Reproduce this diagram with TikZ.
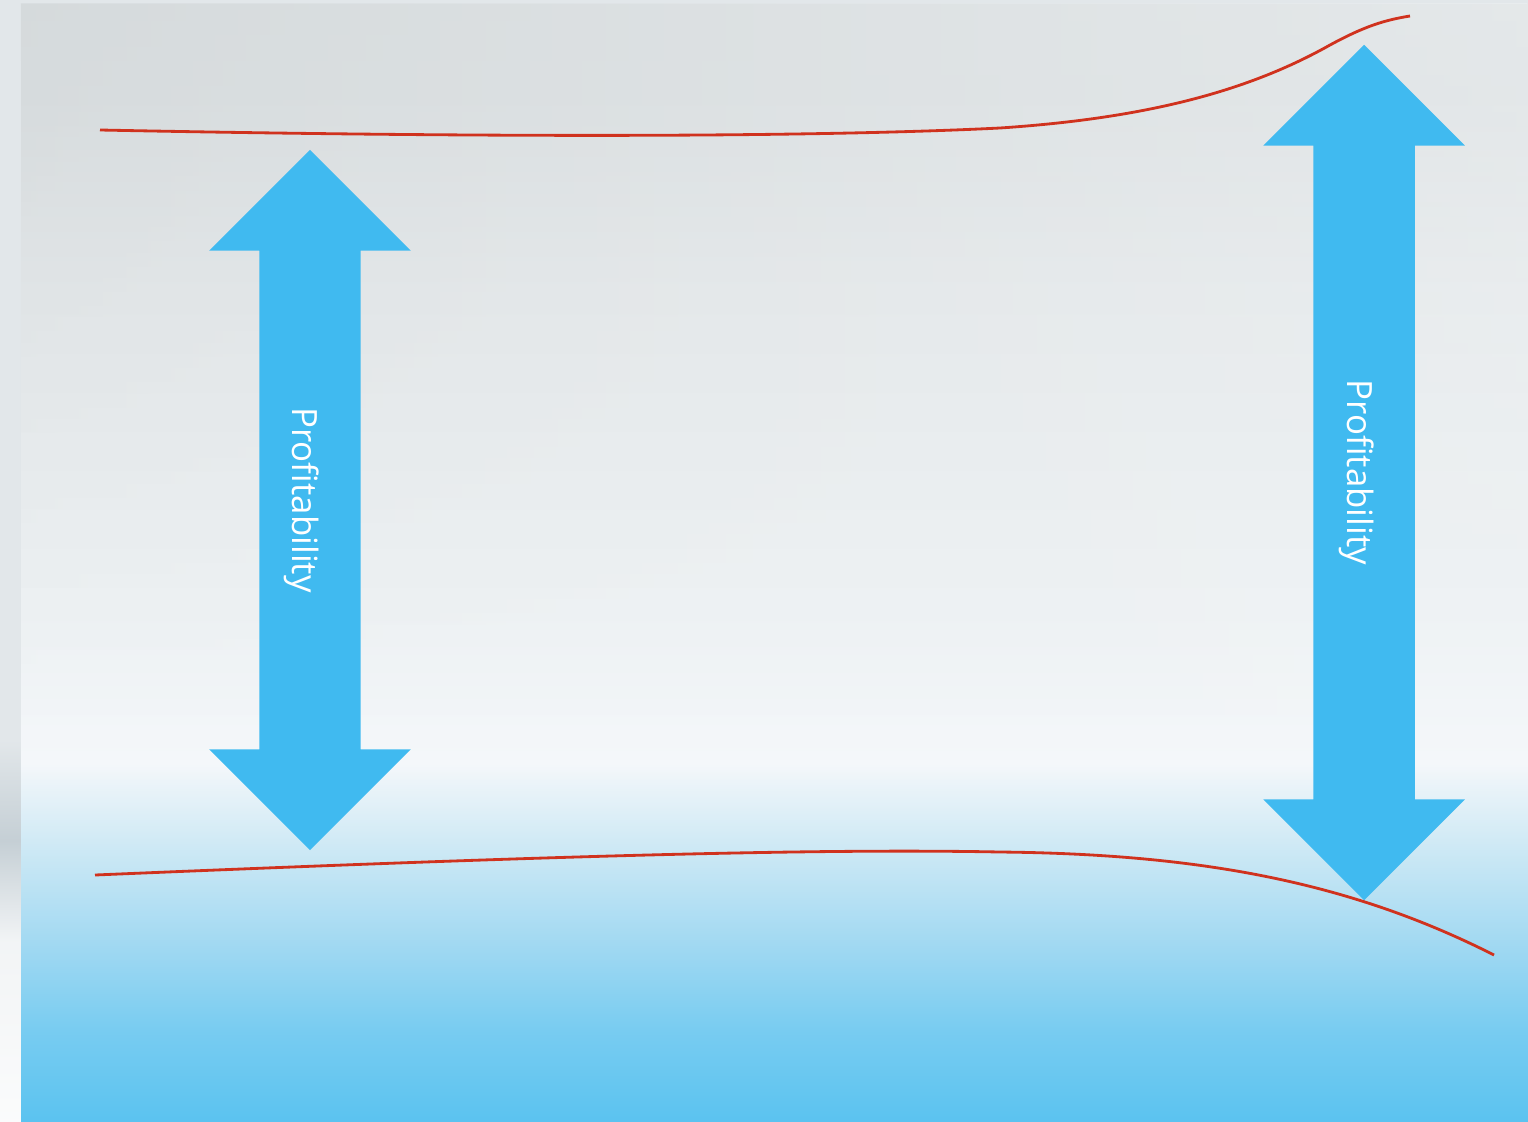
\documentclass[tikz,border=0pt]{standalone}
\usepackage{fontspec}
\setsansfont{Open Sans}
\usepackage{tikz}
\usetikzlibrary{shapes.arrows,positioning,fadings}

\definecolor{arrowblue}{HTML}{40BAF0}
\definecolor{curvered}{HTML}{D0321E}
\definecolor{skytop}{HTML}{DDE2E4}
\definecolor{skyhigh}{HTML}{E6EAEC}
\definecolor{skymid}{HTML}{EEF2F4}
\definecolor{skylight}{HTML}{F4F7FA}
\definecolor{seahaze}{HTML}{C6E6F4}
\definecolor{seadeep}{HTML}{A2D9F2}
\definecolor{seablue}{HTML}{5BC3F0}
\definecolor{sideband}{HTML}{E2E7EA}
\definecolor{sidedark}{HTML}{C5CFD5}

% usable range of an axis shading is 25bp (bottom) to 75bp (top)
\pgfdeclareverticalshading{skysea}{100bp}{%
  color(0bp)=(seablue);
  color(25bp)=(seablue);
  color(29bp)=(seablue!60!seadeep);
  color(33bp)=(seadeep);
  color(36.5bp)=(seahaze);
  color(41bp)=(skylight);
  color(48bp)=(skymid);
  color(62bp)=(skyhigh);
  color(71bp)=(skytop);
  color(75bp)=(skytop);
  color(100bp)=(skytop)}

\pgfdeclareverticalshading{sidestrip}{100bp}{%
  color(0bp)=(white!85!sideband);
  color(25bp)=(white!85!sideband);
  color(33bp)=(white!55!sideband);
  color(37.5bp)=(sidedark);
  color(42bp)=(sideband);
  color(75bp)=(sideband);
  color(100bp)=(sideband)}

\tikzfading[name=fadedown, top color=transparent!0, bottom color=transparent!100]

\begin{document}
\begin{tikzpicture}[
    x=0.01cm, y=-0.01cm,
    every node/.style={font=\sffamily},
    profit/.style={
        double arrow, fill=arrowblue, draw=none,
        double arrow tip angle=90,
        double arrow head extend=0.5cm,
        double arrow head indent=0pt,
        text=white, font=\sffamily\fontsize{9.9}{11}\selectfont,
        text height=0.67cm, text depth=0.33cm,
        inner ysep=0pt, inner xsep=0pt,
        rotate=-90
    },
    trend/.style={draw=curvered, line width=0.8pt}
]

% Background
\useasboundingbox (0,0) rectangle (1528,1121);
\fill[sideband] (0,0) rectangle (1528,1121);
\shade[shading=sidestrip] (0,0) rectangle (21,1121);
\shade[shading=skysea] (21,4) rectangle (1528,1121);
\shade[left color=skytop!85!black, right color=white, opacity=0.22,
       path fading=fadedown] (21,4) rectangle (1528,720);

% Profitability arrows
\node[profit, minimum height=7cm] (Lprofit) at (310,500)
    {Profitability};
\node[profit, minimum height=8.55cm] (Rprofit) at (1364,472.5)
    {Profitability};

% Upper and lower bounds
\draw[trend]
    (100,130)
    .. controls (450,137) and (800,138) .. (1000,128)
    .. controls (1150,118) and (1250,90) .. (1330,45)
    .. controls (1365,26) and (1385,20) .. (1410,16);
\draw[trend]
    (95,875)
    .. controls (500,858) and (800,848) .. (1000,852)
    .. controls (1200,854) and (1350,882) .. (1494,955);

\end{tikzpicture}
\end{document}
